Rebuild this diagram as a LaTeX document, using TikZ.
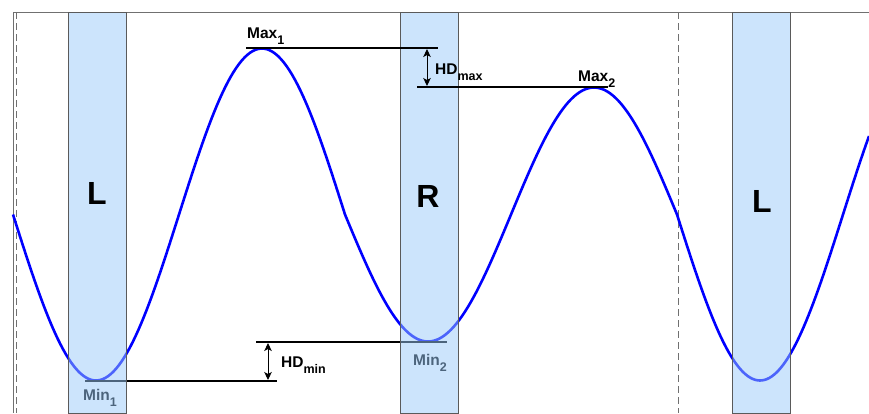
\documentclass[tikz,border=0pt]{standalone}
\usepackage{fontspec}
\setmainfont{Liberation Sans}
\usetikzlibrary{arrows.meta}
\definecolor{bandfill}{HTML}{99C9F9}
\definecolor{framegray}{HTML}{707070}
\definecolor{bandedge}{HTML}{5A5A5A}
\newcommand{\mysub}[1]{\raisebox{-6pt}{\fontsize{12.5}{12.5}\selectfont #1}}
\begin{document}
\begin{tikzpicture}[x=1pt,y=-1pt,
  band/.style={draw=bandedge, line width=0.9pt, fill=bandfill, fill opacity=0.5},
  wave/.style={draw=blue, line width=2.6pt},
  hline/.style={draw=black, line width=2pt},
  guide/.style={draw=framegray, line width=0.9pt, dash pattern=on 7pt off 4pt},
  framel/.style={draw=framegray, line width=0.9pt},
  hdarrow/.style={draw=black, line width=0.9pt, {Stealth[length=8pt,width=7.5pt,inset=2pt]}-{Stealth[length=8pt,width=7.5pt,inset=2pt]}},
  lab/.style={font=\bfseries\fontsize{15.5}{15.5}\selectfont, inner sep=0pt, anchor=base west},
  side/.style={font=\bfseries\fontsize{32}{32}\selectfont, inner sep=0pt}]
\useasboundingbox (0,0) rectangle (869,413);

% frame
\coordinate (ftl) at (13,12);
\coordinate (ftr) at (869,12);
\coordinate (fbl) at (13,413);
\draw[framel] (ftr) -- (ftl) -- (fbl);
\coordinate (g1t) at (16.5,12);
\coordinate (g1b) at (16.5,413);
\coordinate (g2t) at (678,12);
\coordinate (g2b) at (678,413);
\draw[guide] (g1t) -- (g1b);
\draw[guide] (g2t) -- (g2b);

% wave
\draw[wave, line join=round]
  plot[domain=13:345, samples=120] (\x, {214.5+166*sin((\x-13)*1.0843373)})
  -- plot[domain=345:677, samples=120] (\x, {214.5+127*sin((\x-13)*1.0843373)})
  -- plot[domain=677:869, samples=80] (\x, {214.5+166*sin((\x-13)*1.0843373)});

% minimum lines
\coordinate (min1L) at (85,381);
\coordinate (min1R) at (277,381);
\coordinate (min2L) at (256,342);
\coordinate (min2R) at (447,342);
\draw[hline] (min1L) -- (min1R);
\draw[hline] (min2L) -- (min2R);
\node[lab] (min1lab) at (83,400) {Min\mysub{1}};
\node[lab] (min2lab) at (413,365) {Min\mysub{2}};

% bands
\path[band] (68,12) rectangle (126,413);
\path[band] (400,12) rectangle (458,413);
\path[band] (732,12) rectangle (790,413);

% maximum lines
\coordinate (max1L) at (246,48);
\coordinate (max1R) at (438,48);
\coordinate (max2L) at (417,87);
\coordinate (max2R) at (608,87);
\draw[hline] (max1L) -- (max1R);
\draw[hline] (max2L) -- (max2R);
\node[lab] (max1lab) at (247,38.5) {Max\mysub{1}};
\node[lab] (max2lab) at (578,81) {Max\mysub{2}};

% height differences
\coordinate (hdmaxT) at (427,49);
\coordinate (hdmaxB) at (427,86);
\draw[hdarrow] (hdmaxT) -- (hdmaxB);
\node[lab] (hdmaxlab) at (435,74) {HD\mysub{max}};
\coordinate (hdminT) at (268,343);
\coordinate (hdminB) at (268,380);
\draw[hdarrow] (hdminT) -- (hdminB);
\node[lab] (hdminlab) at (281,367) {HD\mysub{min}};

% side labels
\node[side] (sideL1) at (97,193) {L};
\node[side] (sideR) at (428,196) {R};
\node[side] (sideL2) at (762,201) {L};
\end{tikzpicture}
\end{document}
